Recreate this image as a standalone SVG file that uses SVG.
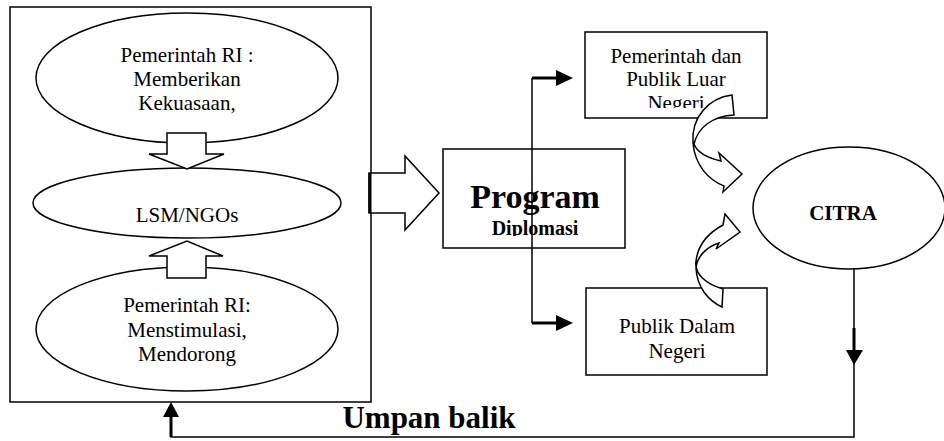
<svg xmlns="http://www.w3.org/2000/svg" width="944" height="441" viewBox="0 0 944 441">
  <style>
    .shape { fill: #fff; stroke: #000; stroke-width: 1.5; }
    .line { fill: none; stroke: #000; stroke-width: 1.5; }
    .thick { fill: none; stroke: #000; stroke-width: 3; }
    .head { fill: #000; stroke: none; }
    .txt { font-family: "Liberation Serif", "Times New Roman", serif; font-size: 21px; fill: #000; text-anchor: middle; }
    .bold { font-weight: bold; }
  </style>
  <defs>
    <clipPath id="clipProgram"><rect x="443" y="149" width="182" height="87"/></clipPath>
    <clipPath id="clipLuar"><rect x="585" y="32" width="182" height="76"/></clipPath>
  </defs>
  <rect width="944" height="441" fill="#fff"/>

  <!-- outer frame of the actors -->
  <g id="actors">
    <rect class="shape" x="10" y="7" width="361" height="395"/>
  </g>

  <g id="pemerintah-kuasa">
    <ellipse class="shape" cx="187" cy="78" rx="151" ry="65"/>
    <text class="txt" x="187" y="62">Pemerintah RI :</text>
    <text class="txt" x="187" y="86">Memberikan</text>
    <text class="txt" x="187" y="110">Kekuasaan,</text>
  </g>

  <g id="lsm">
    <ellipse class="shape" cx="187" cy="203" rx="154" ry="35"/>
    <text class="txt" x="187" y="222">LSM/NGOs</text>
  </g>

  <g id="pemerintah-stimulasi">
    <ellipse class="shape" cx="187" cy="329" rx="151" ry="62"/>
    <text class="txt" x="187" y="312">Pemerintah RI:</text>
    <text class="txt" x="187" y="337">Menstimulasi,</text>
    <text class="txt" x="187" y="361">Mendorong</text>
  </g>

  <g id="program">
    <rect class="shape" x="443" y="149" width="182" height="99"/>
    <g clip-path="url(#clipProgram)">
      <text class="txt bold" x="535" y="208" style="font-size:34px">Program</text>
      <text class="txt bold" x="535" y="235" style="font-size:20px">Diplomasi</text>
    </g>
  </g>

  <g id="publik-luar">
    <rect class="shape" x="585" y="32" width="182" height="86"/>
    <g clip-path="url(#clipLuar)">
      <text class="txt" x="676" y="63">Pemerintah dan</text>
      <text class="txt" x="676" y="86">Publik Luar</text>
      <text class="txt" x="676" y="110">Negeri</text>
    </g>
  </g>

  <g id="publik-dalam">
    <rect class="shape" x="586" y="288" width="181" height="87"/>
    <text class="txt" x="677" y="333">Publik Dalam</text>
    <text class="txt" x="677" y="358">Negeri</text>
  </g>

  <g id="citra">
    <ellipse class="shape" cx="849" cy="208" rx="96" ry="61"/>
    <text class="txt bold" x="843" y="220">CITRA</text>
  </g>

  <g id="connectors">
    <!-- block arrows inside the frame -->
    <polygon class="shape" points="167,133 206,133 206,154 224,154 187,169 149,154 167,154"/>
    <polygon class="shape" points="167,278 206,278 206,256 223,256 187,241 149,256 167,256"/>
    <!-- block arrow frame -> program -->
    <polygon class="shape" points="369,173 405,173 405,156 439,193 405,230 405,213 369,213"/>
    <line x1="370" y1="173" x2="370" y2="213" stroke="#000" stroke-width="3"/>

    <!-- program splits to both publics -->
    <line class="line" x1="532" y1="78" x2="532" y2="323"/>
    <line class="thick" x1="532" y1="78" x2="557" y2="78"/>
    <polygon class="head" points="556,70 573,78 556,86"/>
    <line class="thick" x1="532" y1="323" x2="557" y2="323"/>
    <polygon class="head" points="556,315 573,323 556,331"/>

    <!-- curved arrows toward the image -->
    <path class="shape" d="M732,95 C708,98 691,118 693,143 C695,166 709,180 724,186 L723,192 L742,174 L719,153 L721,161 C708,158 697,152 694,144 C698,127 713,116 734,115 Z"/>
    <path class="shape" d="M723,289 C706,284 694,274 696,261 C698,244 710,232 723,225 L725,214 L740,232 L716,249 L719,243 C706,247 697,257 696,268 C697,288 709,301 722,307 Z"/>

    <!-- feedback loop -->
    <polyline class="line" points="854,269 854,437 171,437 171,417"/>
    <line class="thick" x1="854" y1="328" x2="854" y2="351"/>
    <polygon class="head" points="846,350 863,350 854,365"/>
    <line class="thick" x1="171" y1="437" x2="171" y2="416"/>
    <polygon class="head" points="163,417 179,417 171,402"/>
  </g>

  <text class="txt bold" x="429" y="428" style="font-size:31px">Umpan balik</text>
</svg>
